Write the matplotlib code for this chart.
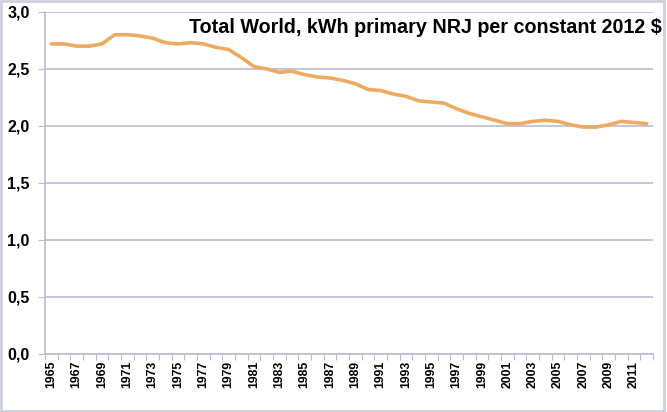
import numpy as np
import matplotlib
matplotlib.use("Agg")
import matplotlib.pyplot as plt
from matplotlib.patches import Rectangle
from matplotlib.ticker import FuncFormatter

# kWh of primary energy per constant 2012 $, world total
years = list(range(1965, 2013))
intensity = [2.72, 2.72, 2.70, 2.70, 2.72, 2.80, 2.80, 2.79, 2.77, 2.73,
             2.72, 2.73, 2.72, 2.69, 2.67, 2.60, 2.52, 2.50, 2.47, 2.48,
             2.45, 2.43, 2.42, 2.40, 2.37, 2.32, 2.31, 2.28, 2.26, 2.22,
             2.21, 2.20, 2.15, 2.11, 2.08, 2.05, 2.02, 2.02, 2.04, 2.05,
             2.04, 2.01, 1.99, 1.99, 2.01, 2.04, 2.03, 2.02]
title = "Total World, kWh primary NRJ per constant 2012 $"

plt.rcParams['font.family'] = ['Liberation Sans', 'DejaVu Sans']
grid_col = '#B9BCD4'

fig = plt.figure(figsize=(6.67, 4.12), dpi=100)
ax = fig.add_axes([0.0675, 0.141, 0.9115, 0.830])

x = np.arange(len(years))
ax.plot(x, intensity, color='#EFAA62', lw=2.6, solid_capstyle='round', zorder=3)

ax.set_xlim(-0.5, len(years) - 0.5)
ax.set_ylim(0, 3.0)
ax.set_yticks(np.arange(0, 3.01, 0.5))
ax.yaxis.set_major_formatter(FuncFormatter(lambda v, p: f"{v:.1f}".replace('.', ',')))
ax.grid(axis='y', color=grid_col, lw=1.2)
ax.set_axisbelow(True)

# category axis: ticks between categories, labels on every other year
ax.set_xticks(np.arange(len(years) + 1) - 0.5)
ax.set_xticklabels([])
ax.set_xticks(x[::2], minor=True)
ax.set_xticklabels([str(y) for y in years[::2]], minor=True, rotation=90,
                   fontsize=8.8, fontweight='bold')
ax.tick_params(axis='x', which='minor', length=0, pad=5)
ax.tick_params(axis='x', which='major', length=4, color=grid_col, direction='out')
ax.tick_params(axis='y', length=5, color=grid_col, labelsize=11.5, pad=6)
for lab in ax.get_yticklabels():
    lab.set_fontweight('bold')

for s in ['top', 'right']:
    ax.spines[s].set_visible(False)
for s in ['left', 'bottom']:
    ax.spines[s].set_color(grid_col)
    ax.spines[s].set_linewidth(1.2)

fig.text(0.992, 1 - 33 / 412, title, ha='right', va='baseline',
         fontsize=14.2, fontweight='bold')

fig.patches.append(Rectangle((0.002, 0.003), 0.994, 0.994, transform=fig.transFigure,
                             fill=False, edgecolor='#CDD0DE', lw=2))

fig.savefig('out.png', dpi=100)
